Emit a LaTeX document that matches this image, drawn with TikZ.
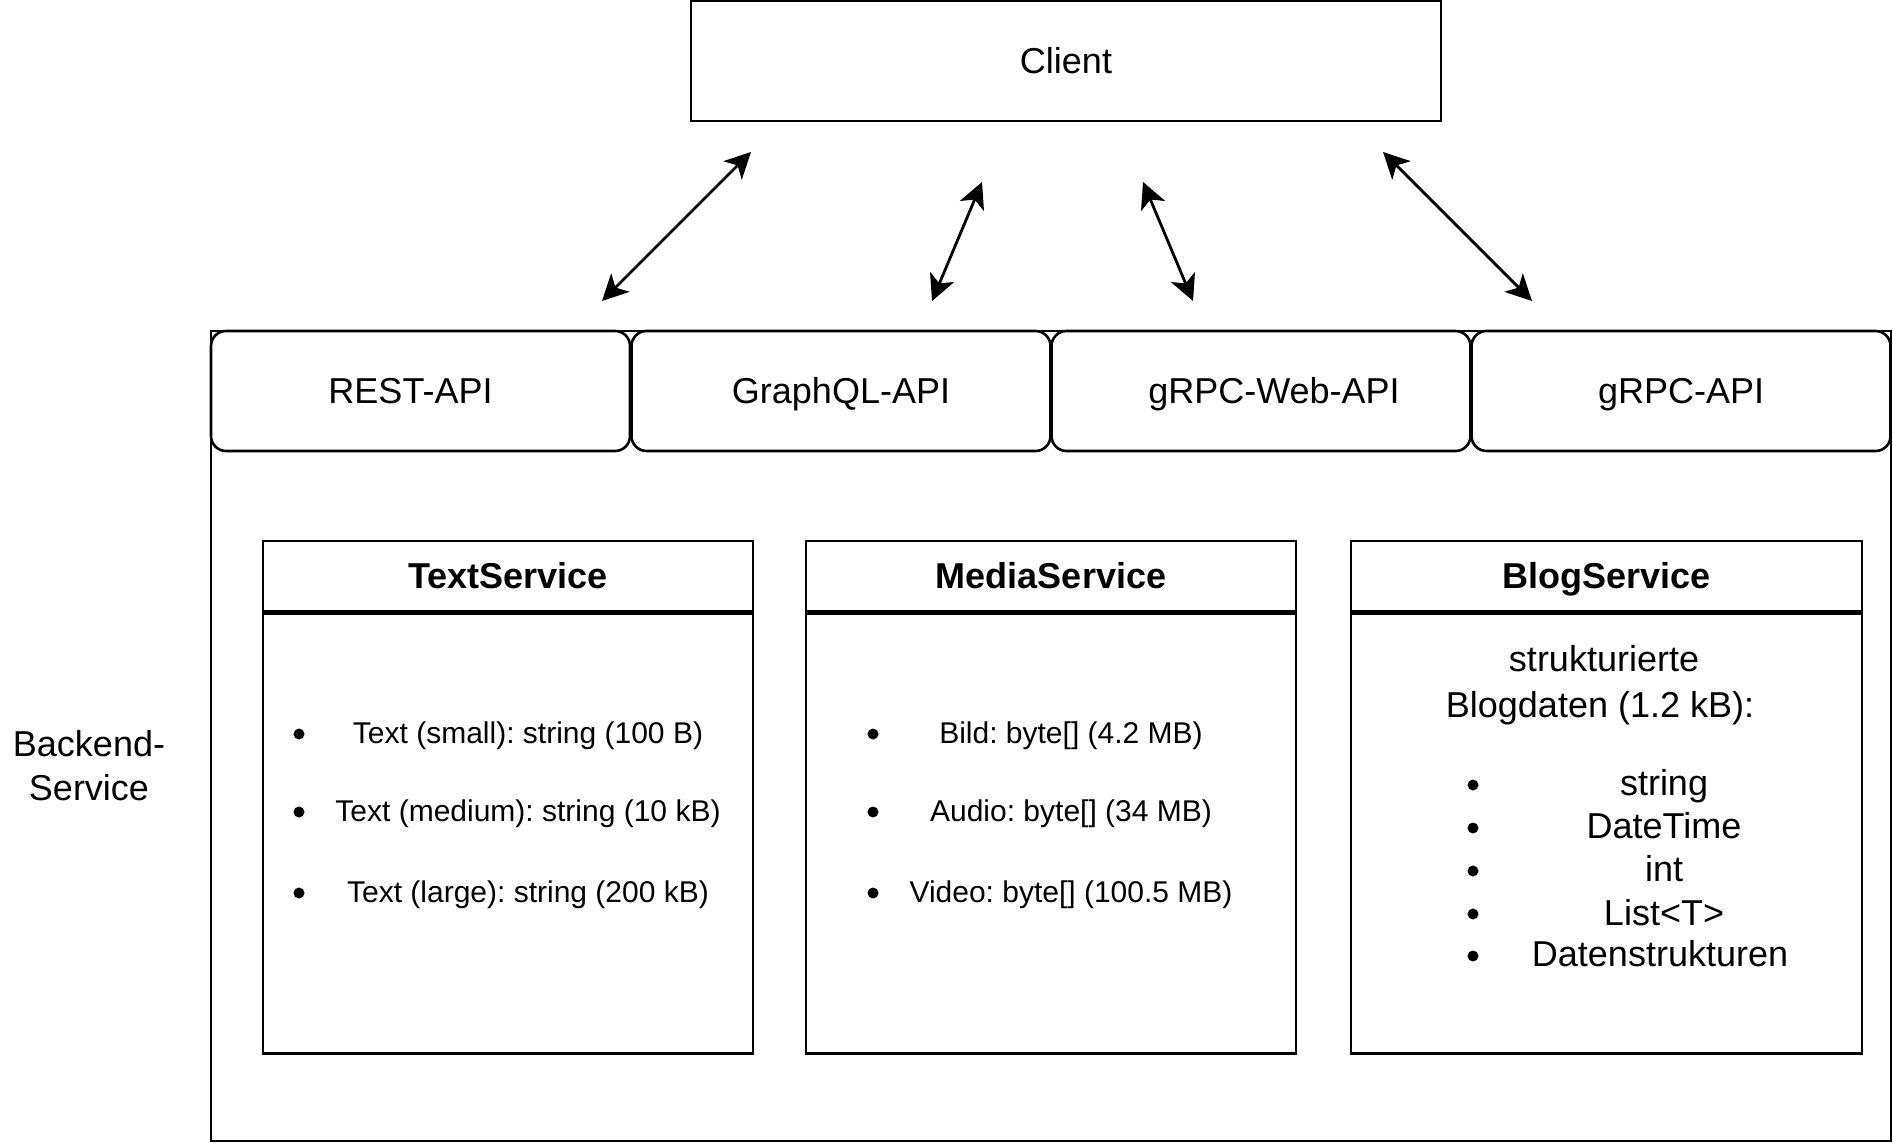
\documentclass[tikz,border=0pt]{standalone}
\usepackage{fontspec}
\setmainfont{Liberation Sans}
\usetikzlibrary{arrows.meta}
\frenchspacing
\begin{document}
\begin{tikzpicture}[x=0.5pt,y=-0.5pt,
  txtbig/.style={inner sep=0pt, text height=16.3pt, text depth=3.8pt},
  txtsmall/.style={inner sep=0pt, text height=13.6pt, text depth=3.2pt},
  boxline/.style={draw, line width=1.3pt, txtbig, font=\fontsize{18}{21}\selectfont},
  apibox/.style={boxline, fill=white, rounded corners=7.5pt, minimum width=209.5pt, minimum height=60pt},
  apilabel/.style={txtbig, font=\fontsize{18}{21}\selectfont},
  svhead/.style={boxline, font=\fontsize{18}{21}\selectfont\bfseries, minimum height=35pt},
  svbody/.style={boxline, minimum height=220pt},
  listitem/.style={txtsmall, font=\fontsize{15}{18}\selectfont},
  blogitem/.style={txtbig, font=\fontsize{18}{21}\selectfont},
  bdot/.style={circle, fill, inner sep=0pt, minimum size=5.5pt},
  biarrow/.style={line width=1.4pt, {Stealth[length=13pt,width=13pt,inset=3.5pt]}-{Stealth[length=13pt,width=13pt,inset=3.5pt]}}
]
\useasboundingbox (0,0) rectangle (1893,1143);

% Client
\node[boxline, minimum width=375pt, minimum height=60pt] (client) at (1066,61) {Client};

% Backend outer
\node[boxline, minimum width=840pt, minimum height=405pt] (backend) at (1051,736) {};
\node[align=center, font=\fontsize{18}{22}\selectfont, inner sep=0pt] (blabel) at (89,766) {Backend-\\Service};

% API boxes
\node[apibox] (rest) at (420.5,391) {};
\node[apilabel] (restl) at ([xshift=-5pt]rest.center) {REST-API};
\node[apibox] (gql) at (841,391) {};
\node[apilabel] (gqll) at (gql.center) {GraphQL-API};
\node[apibox] (grpcweb) at (1261,391) {};
\node[apilabel] (grpcwebl) at ([xshift=6.5pt]grpcweb.center) {gRPC-Web-API};
\node[apibox] (grpc) at (1681,391) {};
\node[apilabel] (grpcl) at (grpc.center) {gRPC-API};

% TextService
\node[svhead, minimum width=245pt] (th) at (508,576) {TextService};
\node[svbody, minimum width=245pt, anchor=north] (tb) at (th.south) {};
\node[bdot] (td1) at (299,734) {};
\node[listitem] (tt1) at (528,733) {Text (small): string (100 B)};
\node[bdot] (td2) at (299,812) {};
\node[listitem] (tt2) at (528,811) {Text (medium): string (10 kB)};
\node[bdot] (td3) at (299,893) {};
\node[listitem] (tt3) at (528,892) {Text (large): string (200 kB)};

% MediaService
\node[svhead, minimum width=245pt] (mh) at (1051,576) {MediaService};
\node[svbody, minimum width=245pt, anchor=north] (mb) at (mh.south) {};
\node[bdot] (md1) at (873,734) {};
\node[listitem] (mt1) at (1071,733) {Bild: byte[] (4.2 MB)};
\node[bdot] (md2) at (873,812) {};
\node[listitem] (mt2) at (1071,811) {Audio: byte[] (34 MB)};
\node[bdot] (md3) at (873,893) {};
\node[listitem] (mt3) at (1071,892) {Video: byte[] (100.5 MB)};

% BlogService
\node[svhead, minimum width=255.5pt] (bh) at (1606.5,576) {BlogService};
\node[svbody, minimum width=255.5pt, anchor=north] (bb) at (bh.south) {};
\node[blogitem] (bt0) at (1604,659) {strukturierte};
\node[blogitem] (bt00) at (1600,705) {Blogdaten (1.2 kB):};
\node[bdot] (bd1) at (1473,785) {};
\node[blogitem] (bt1) at (1664,783) {string};
\node[bdot] (bd2) at (1473,828) {};
\node[blogitem] (bt2) at (1664,826) {DateTime};
\node[bdot] (bd3) at (1473,871) {};
\node[blogitem] (bt3) at (1664,869) {int};
\node[bdot] (bd4) at (1473,914) {};
\node[blogitem] (bt4) at (1664,913) {List<T>};
\node[bdot] (bd5) at (1473,956) {};
\node[blogitem] (bt5) at (1660,954) {Datenstrukturen};

% Arrows
\coordinate (a1b) at (602,301);
\coordinate (a1t) at (751,152);
\coordinate (a2b) at (932,301);
\coordinate (a2t) at (982,182);
\coordinate (a3b) at (1193,301);
\coordinate (a3t) at (1143,182);
\coordinate (a4b) at (1532,301);
\coordinate (a4t) at (1383,152);
\draw[biarrow] (a1b) -- (a1t);
\draw[biarrow] (a2b) -- (a2t);
\draw[biarrow] (a3b) -- (a3t);
\draw[biarrow] (a4b) -- (a4t);
\end{tikzpicture}
\end{document}
